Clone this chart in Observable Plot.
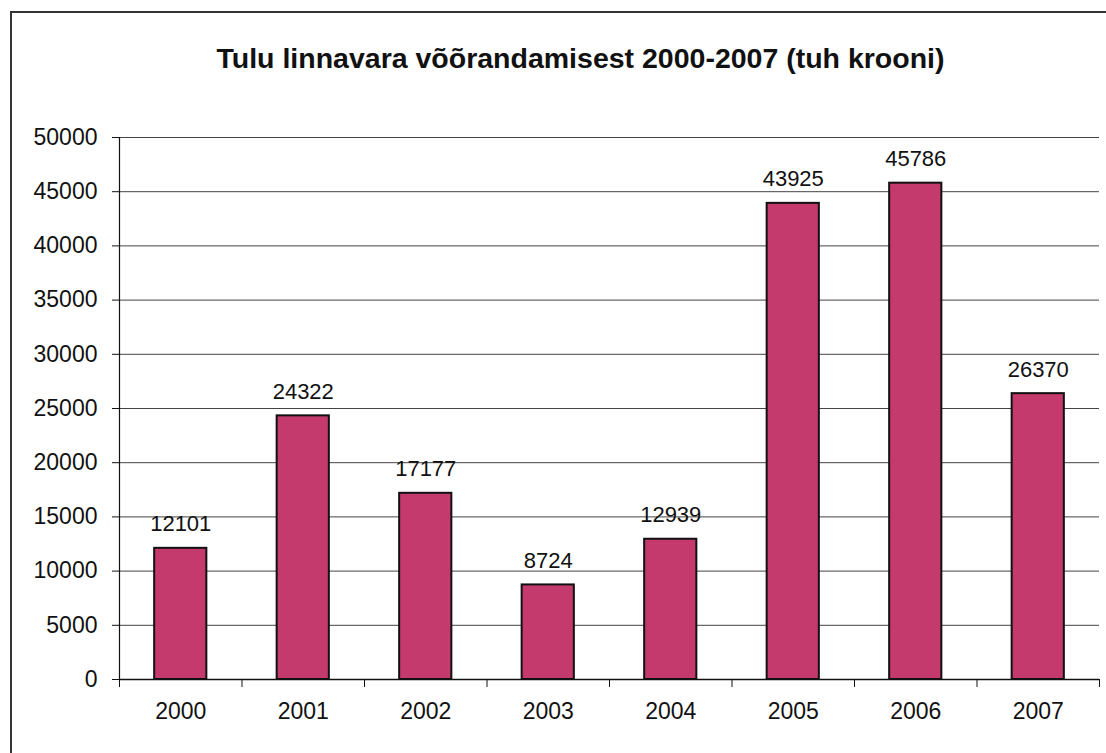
<!DOCTYPE html>
<html><head><meta charset="utf-8">
<script src="https://cdn.jsdelivr.net/npm/d3@7"></script>
<script src="https://cdn.jsdelivr.net/npm/@observablehq/plot@0.6"></script>
<style>
html,body{margin:0;padding:0;background:#fff;}
#wrap{position:relative;width:1106px;height:753px;overflow:hidden;font-family:"Liberation Sans",Arial,sans-serif;}
#border{position:absolute;left:10px;top:11px;width:1200px;height:900px;border-left:2px solid #333;border-top:2px solid #333;}
#title{position:absolute;left:0;top:42px;width:1161px;text-align:center;font-size:28.5px;font-weight:bold;color:#111;}
#chart{position:absolute;left:0;top:0;}
</style></head>
<body><div id="wrap"><div id="border"></div><div id="title">Tulu linnavara võõrandamisest 2000-2007 (tuh krooni)</div><div id="chart"></div></div>
<script>
const years = [2000, 2001, 2002, 2003, 2004, 2005, 2006, 2007];
const values = [12101, 24322, 17177, 8724, 12939, 43925, 45786, 26370];
const yTicks = [0, 5000, 10000, 15000, 20000, 25000, 30000, 35000, 40000, 45000, 50000];
const data = years.map((y, i) => ({year: y, value: values[i]}));
const bounds = [...years.map(y => y - 0.5), years[years.length - 1] + 0.5];
const half = 0.213;

const plot = Plot.plot({
  width: 1106, height: 753,
  marginLeft: 119, marginRight: 7, marginTop: 137, marginBottom: 74,
  style: {fontFamily: '"Liberation Sans", Arial, sans-serif', fontSize: "23px", color: "#111", background: "transparent"},
  x: {domain: [bounds[0], bounds[bounds.length - 1]]},
  y: {domain: [0, 50000]},
  marks: [
    Plot.gridY(yTicks, {stroke: "#444", strokeOpacity: 1, strokeWidth: 1}),
    Plot.axisY(yTicks, {tickSize: 7, tickPadding: 15, tickFormat: d => String(d), label: null, fontSize: 23, stroke: "#111"}),
    Plot.axisX(bounds, {tickSize: 8, tickFormat: () => "", label: null, stroke: "#111"}),
    Plot.axisX(years, {tickSize: 0, tickPadding: 23, tickFormat: d => String(d), label: null, fontSize: 23}),
    Plot.rectY(data, {x1: d => d.year - half, x2: d => d.year + half, y: "value", fill: "#C53A6C", stroke: "#111", strokeWidth: 2}),
    Plot.ruleY([0], {stroke: "#111", strokeWidth: 1.5}),
    Plot.ruleX([bounds[0]], {stroke: "#111", strokeWidth: 1.2}),
    Plot.text(data, {x: "year", y: "value", text: d => String(d.value), dy: -24, fontSize: 22, fill: "#111"})
  ]
});
document.getElementById("chart").appendChild(plot);
</script></body></html>
